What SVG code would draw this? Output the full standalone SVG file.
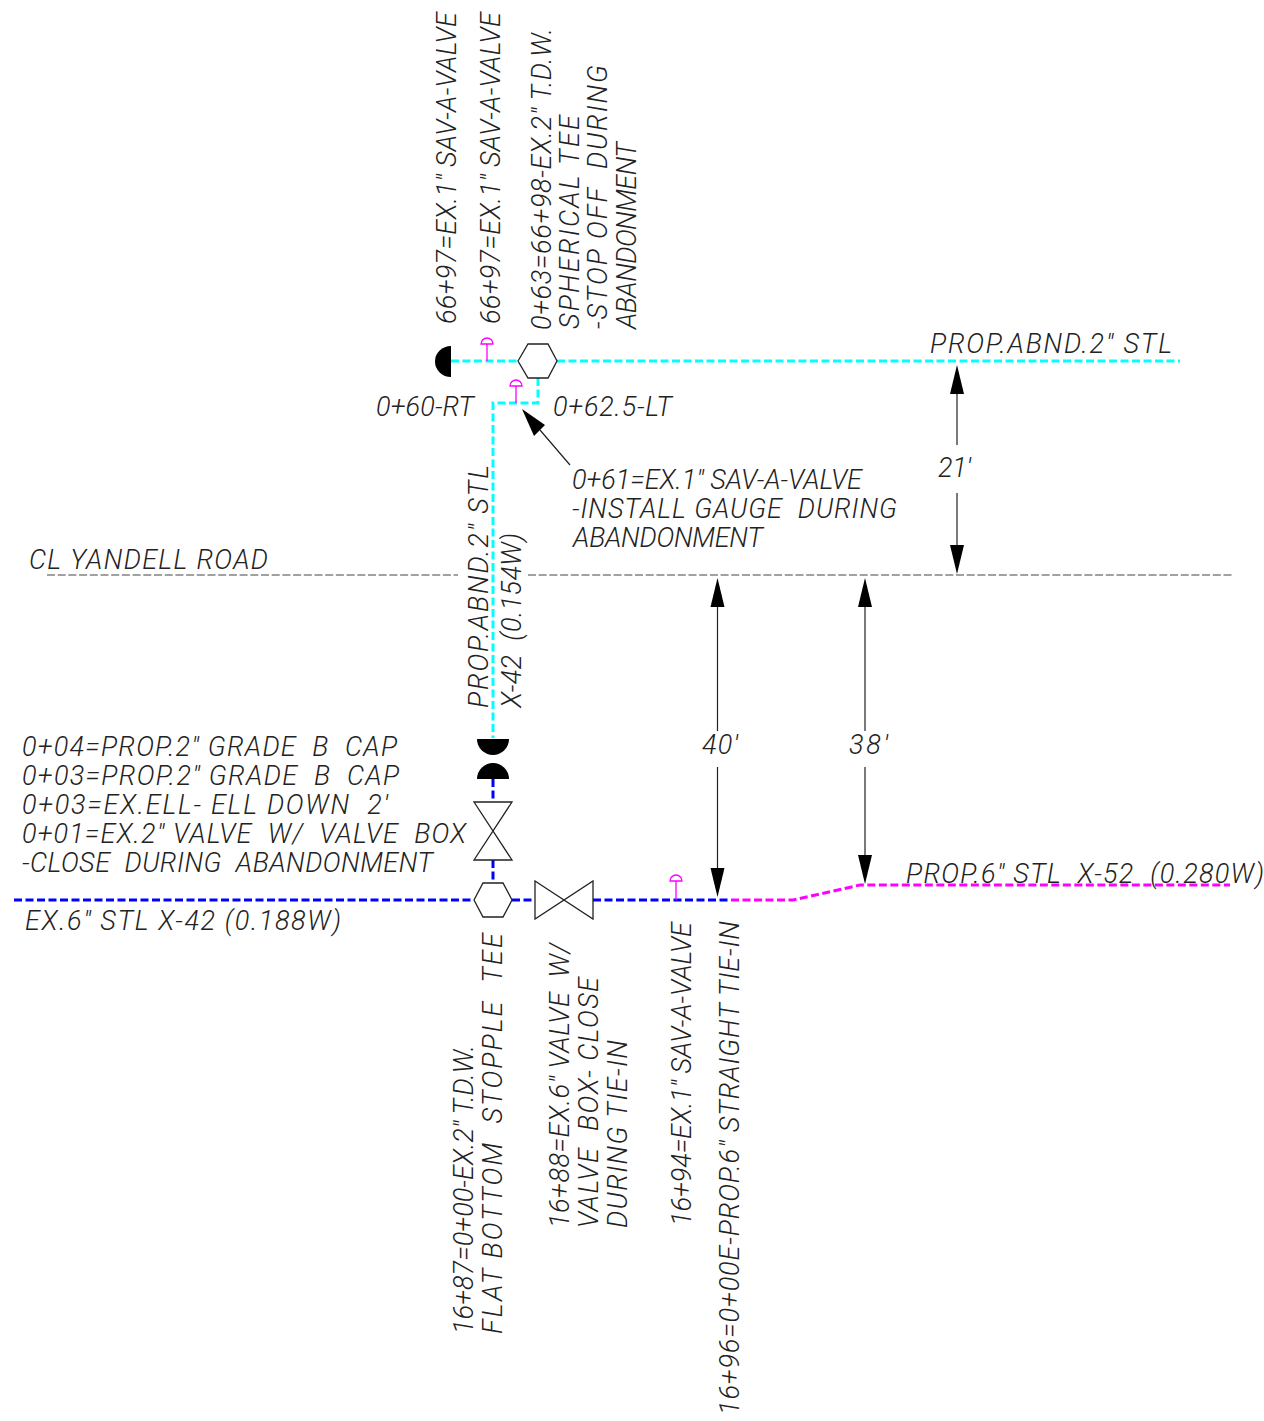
<svg xmlns="http://www.w3.org/2000/svg" width="1264" height="1421" viewBox="0 0 1264 1421">
<style>
text{font-family:"Roboto","Liberation Sans",sans-serif;font-style:italic;font-weight:300;font-size:27px;fill:#222;stroke:none;white-space:pre}
.c{fill:none;stroke:#00ffff;stroke-width:3;stroke-dasharray:8 3.500}
.b{fill:none;stroke:#0000ff;stroke-width:3;stroke-dasharray:8 3.500}
.m{fill:none;stroke:#ff00ff;stroke-width:3;stroke-dasharray:8 3.500}
.s{fill:#fff;stroke:#222;stroke-width:1.300}
.k{fill:#000}
.l{fill:none;stroke:#222;stroke-width:1.200}
.cl{fill:none;stroke:#444;stroke-width:1.200;stroke-dasharray:8 2.700}
.g{fill:none;stroke:#ff00ff;stroke-width:1.300}
</style>
<rect width="1264" height="1421" fill="#fff"/>
<g id="connectors">
<path class="c" d="M451 361H518M557 361H1180"/>
<path class="c" d="M538 378V403H493V738"/>
<path class="b" d="M493 779V802M493 860V883"/>
<path class="b" d="M14 900H474M512 900H535M593 900H731"/>
<path class="m" d="M731 900H793L860 885H1230"/>
<path class="cl" d="M47 575H458M528 575H1233"/>
<path class="l" d="M957 394V445M957 493V545M717.500 607V731M717.500 767V868M865 607V731M865 767V855M540 430L570 465"/>
<polygon class="k" points="957,365 950,394 964,394"/>
<polygon class="k" points="957,574 950,545 964,545"/>
<polygon class="k" points="717.500,578 710.500,607 724.500,607"/>
<polygon class="k" points="717.500,897 710.500,868 724.500,868"/>
<polygon class="k" points="865,578 858,607 872,607"/>
<polygon class="k" points="865,884 858,855 872,855"/>
<polygon class="k" points="522,409 545,425 534,436"/>
</g>
<g id="cap-top"><path class="k" d="M451 346A16 15.500 0 0 0 451 377Z"/></g>
<g id="valve-487"><path class="g" d="M487 361V344M481 344A6 6 0 0 1 493 344Z"/></g>
<g id="tee-top"><polygon class="s" points="518,361 528,344 548,344 557,361 548,378 528,378"/></g>
<g id="valve-516"><path class="g" d="M516 403V386M510 386A6 6 0 0 1 522 386Z"/></g>
<g id="cap-upper"><path class="k" d="M477 739H509A16 16 0 0 1 477 739Z"/></g>
<g id="cap-lower"><path class="k" d="M477 779H509A16 16 0 0 0 477 779Z"/></g>
<g id="valve-vertical"><polygon class="s" points="474,802 512,802 474,860 512,860"/></g>
<g id="tee-bottom"><polygon class="s" points="474,900 483,883 503,883 512,900 503,917 483,917"/></g>
<g id="valve-horizontal"><polygon class="s" points="535,881 593,919 593,881 535,919"/></g>
<g id="valve-676"><path class="g" d="M676 900V881M670 881A6 6 0 0 1 682 881Z"/></g>
<g id="labels">
<text x="930" y="353" textLength="242">PROP.ABND.2" STL</text>
<text x="376" y="416" textLength="98">0+60-RT</text>
<text x="553" y="416" textLength="119">0+62.5-LT</text>
<text x="572" y="489" textLength="290">0+61=EX.1" SAV-A-VALVE</text>
<text x="572" y="518" textLength="325">-INSTALL GAUGE  DURING</text>
<text x="573" y="547" textLength="190">ABANDONMENT</text>
<text x="29" y="569" textLength="239">CL YANDELL ROAD</text>
<text x="938" y="477" textLength="33">21'</text>
<text x="702" y="754" textLength="36">40'</text>
<text x="849" y="754" textLength="39">38'</text>
<text x="22" y="756" textLength="375">0+04=PROP.2" GRADE  B  CAP</text>
<text x="22" y="785" textLength="377">0+03=PROP.2" GRADE  B  CAP</text>
<text x="22" y="814" textLength="366">0+03=EX.ELL- ELL DOWN  2'</text>
<text x="22" y="843" textLength="444">0+01=EX.2" VALVE  W/  VALVE  BOX</text>
<text x="22" y="872" textLength="411">-CLOSE  DURING  ABANDONMENT</text>
<text x="906" y="883" textLength="358">PROP.6" STL  X-52  (0.280W)</text>
<text x="25" y="930" textLength="316">EX.6" STL X-42 (0.188W)</text>
<text transform="translate(456 324) rotate(-90)" textLength="312">66+97=EX.1" SAV-A-VALVE</text>
<text transform="translate(500 324) rotate(-90)" textLength="312">66+97=EX.1" SAV-A-VALVE</text>
<text transform="translate(551 330) rotate(-90)" textLength="302">0+63=66+98-EX.2" T.D.W.</text>
<text transform="translate(579 329) rotate(-90)" textLength="214">SPHERICAL TEE</text>
<text transform="translate(607 329) rotate(-90)" textLength="264">-STOP OFF  DURING</text>
<text transform="translate(636 329) rotate(-90)" textLength="187">ABANDONMENT</text>
<text transform="translate(488 708) rotate(-90)" textLength="243">PROP.ABND.2" STL</text>
<text transform="translate(521 708) rotate(-90)" textLength="175">X-42  (0.154W)</text>
<text transform="translate(473 1334) rotate(-90)" textLength="289">16+87=0+00-EX.2" T.D.W.</text>
<text transform="translate(502 1334) rotate(-90)" textLength="401">FLAT BOTTOM  STOPPLE  TEE</text>
<text transform="translate(569 1228) rotate(-90)" textLength="285">16+88=EX.6" VALVE  W/</text>
<text transform="translate(598 1228) rotate(-90)" textLength="251">VALVE  BOX- CLOSE</text>
<text transform="translate(627 1228) rotate(-90)" textLength="188">DURING TIE-IN</text>
<text transform="translate(691 1226) rotate(-90)" textLength="304">16+94=EX.1" SAV-A-VALVE</text>
<text transform="translate(739 1415) rotate(-90)" textLength="494">16+96=0+00E-PROP.6" STRAIGHT TIE-IN</text>
</g>
</svg>
